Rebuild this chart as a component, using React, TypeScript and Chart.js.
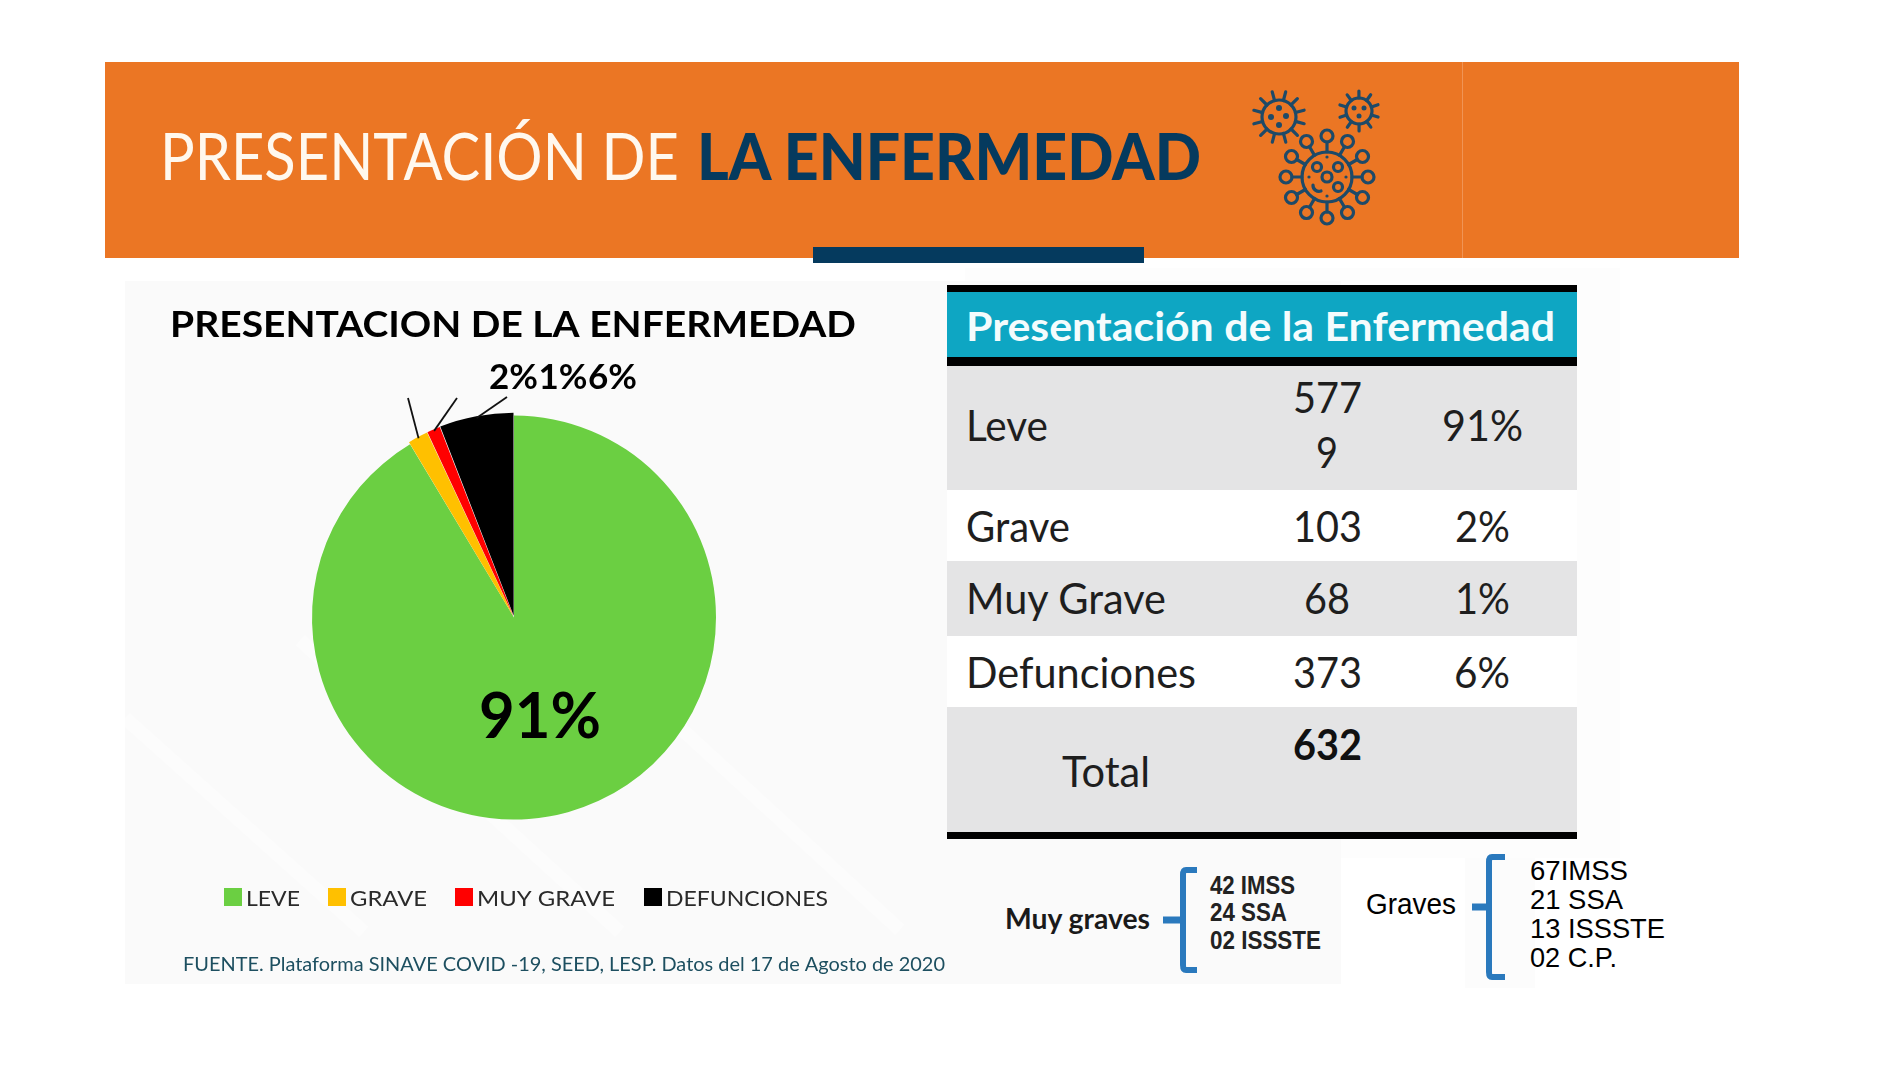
import React, { useEffect, useRef } from "react";
import { Chart, registerables } from "chart.js";

Chart.register(...registerables);

// ---- data ----
const categories = ["LEVE", "GRAVE", "MUY GRAVE", "DEFUNCIONES"];
const caseValues = [5779, 103, 68, 373];
const sliceColors = ["#6BCF42", "#FFC000", "#FF0000", "#000000"];
const tableRowNames = ["Leve", "Grave", "Muy Grave", "Defunciones"];
const tableCounts = ["5779", "103", "68", "373"];
const tablePercents = ["91%", "2%", "1%", "6%"];
const totalName = "Total";
const totalCount = "632";
const muyGravesLabel = "Muy graves";
const muyGravesItems = ["42 IMSS", "24 SSA", "02 ISSSTE"];
const gravesLabel = "Graves";
const gravesItems = ["67IMSS", "21 SSA", "13 ISSSTE", "02 C.P."];
const bannerLight = "PRESENTACIÓN DE";
const bannerBold = "LA ENFERMEDAD";
const chartTitle = "PRESENTACION DE LA ENFERMEDAD";
const tableTitle = "Presentación de la Enfermedad";
const sourceNote = "FUENTE. Plataforma SINAVE COVID -19, SEED, LESP. Datos del 17 de Agosto de 2020";

// ---- layout ----
const CANVAS = { left: 125, top: 281, width: 820, height: 703 };
const LEGEND = [
  { box: 224, x: 247, w: 53 },
  { box: 328, x: 351, w: 76 },
  { box: 455, x: 478, w: 137 },
  { box: 644, x: 667, w: 161 },
];
const NAVY = "#053A5E";
const ICON = "#1E4A68";
const BRACE = "#2A79BD";

function fit(ctx: CanvasRenderingContext2D, text: string, x: number, y: number, w: number) {
  const natural = ctx.measureText(text).width;
  ctx.save();
  ctx.translate(x, y);
  ctx.scale(w / natural, 1);
  ctx.textAlign = "left";
  ctx.textBaseline = "alphabetic";
  ctx.fillText(text, 0, 0);
  ctx.restore();
}

const overlay = {
  id: "overlay",
  afterDatasetsDraw(chart: any) {
    const ctx: CanvasRenderingContext2D = chart.ctx;
    const arcs = chart.getDatasetMeta(0).data;
    const total = caseValues.reduce((a, b) => a + b, 0);
    const pct = (v: number) => Math.round((v / total) * 100) + "%";
    const X = (px: number) => px - CANVAS.left;
    const Y = (py: number) => py - CANVAS.top;
    ctx.save();
    ctx.fillStyle = "#000";

    // main slice label, at the slice's own centre point
    const c = arcs[0].getCenterPoint();
    ctx.font = "700 64px Lato";
    const w91 = 122;
    fit(ctx, pct(caseValues[0]), c.x - w91 / 2 - 1, c.y + 23, w91);

    // leader lines and small labels
    const ends = [
      [408, 398],
      [457, 398],
      [507, 397],
    ];
    ctx.strokeStyle = "#111";
    ctx.lineWidth = 1.8;
    ctx.font = "700 35px Lato";
    [1, 2, 3].forEach((i, n) => {
      const a = arcs[i];
      const mid = (a.startAngle + a.endAngle) / 2;
      const r = a.outerRadius + 1;
      const ox = a.x + Math.cos(mid) * r;
      const oy = a.y + Math.sin(mid) * r;
      ctx.beginPath();
      ctx.moveTo(ox, oy);
      ctx.lineTo(X(ends[n][0]), Y(ends[n][1]));
      ctx.stroke();
      fit(ctx, pct(caseValues[i]), X(489 + n * 49.5), Y(389), 49);
    });

    // title
    ctx.font = "700 37px Lato";
    fit(ctx, chartTitle, X(170), Y(337), 686);

    // legend
    ctx.font = "400 21px Lato";
    categories.forEach((name, i) => {
      ctx.fillStyle = sliceColors[i];
      ctx.fillRect(X(LEGEND[i].box), Y(888), 18, 18);
      ctx.fillStyle = "#2A2A2A";
      fit(ctx, name, X(LEGEND[i].x - 1), Y(906), LEGEND[i].w + 1);
    });

    // source
    ctx.font = "400 20px Lato";
    ctx.fillStyle = "#1D4F60";
    fit(ctx, sourceNote, X(183), Y(971), 762);
    ctx.restore();
  },
};

function T({ x, y, w, size, weight = 400, fill = "#1E1E1E", family = "Lato", children }: any) {
  return (
    <text x={x} y={y} textLength={w} lengthAdjust="spacingAndGlyphs" fontSize={size} fontWeight={weight} fill={fill} fontFamily={family}>
      {children}
    </text>
  );
}

function Virus({ cx, cy, r, spike, n, knob = 0, rot = 0, inner }: any) {
  const parts = [];
  for (let i = 0; i < n; i++) {
    const a = rot + (i * Math.PI * 2) / n;
    const end = knob ? spike - knob : spike;
    parts.push(<line key={i} x1={cx + Math.cos(a) * r} y1={cy + Math.sin(a) * r} x2={cx + Math.cos(a) * end} y2={cy + Math.sin(a) * end} />);
    if (knob) parts.push(<circle key={"k" + i} cx={cx + Math.cos(a) * spike} cy={cy + Math.sin(a) * spike} r={knob} />);
  }
  return (
    <g stroke={ICON} strokeWidth={3.2} fill="none" strokeLinecap="round">
      <circle cx={cx} cy={cy} r={r} />
      {parts}
      {inner}
    </g>
  );
}

function Brace({ x, top, bottom, tip, nubFrom, nubY }: any) {
  return (
    <g stroke={BRACE} strokeWidth={6} fill="none" strokeLinejoin="round">
      <path d={`M${tip} ${top + 2} H${x + 3} Q${x} ${top + 2} ${x} ${top + 7} V${bottom - 7} Q${x} ${bottom - 2} ${x + 3} ${bottom - 2} H${tip}`} />
      <path d={`M${nubFrom} ${nubY} H${x}`} strokeWidth={7} />
    </g>
  );
}

export default function App() {
  const ref = useRef<HTMLCanvasElement>(null);
  useEffect(() => {
    const chart = new Chart(ref.current as HTMLCanvasElement, {
      type: "pie",
      data: {
        labels: categories,
        datasets: [
          {
            data: caseValues,
            backgroundColor: sliceColors,
            borderWidth: 0,
            offset: [0, 5, 5, 7],
          },
        ],
      },
      options: {
        animation: false,
        responsive: false,
        radius: 202,
        layout: { padding: { left: 0, top: 0, right: 42, bottom: 30 } },
        plugins: { legend: { display: false }, title: { display: false }, tooltip: { enabled: false } },
      } as any,
      plugins: [overlay],
    });
    return () => chart.destroy();
  }, []);

  const rows = [
    { base: 441, name: 82, cx: 1328, cw: 68, px: 1442, pw: 81 },
    { base: 541.5, name: 104, cx: 1293, cw: 69, px: 1455, pw: 55 },
    { base: 613.5, name: 200, cx: 1304, cw: 46, px: 1455, pw: 55 },
    { base: 688, name: 230, cx: 1293, cw: 69, px: 1454, pw: 56 },
  ];

  return (
    <div style={{ position: "absolute", left: 0, top: 0, width: 1900, height: 1068, background: "#fff", overflow: "hidden", filter: "blur(0.4px)" }}>
      <svg width={1900} height={1068} style={{ position: "absolute", left: 0, top: 0 }}>
        {/* panels */}
        <rect x={965} y={268} width={655} height={590} fill="#FDFDFD" />
        <rect x={125} y={281} width={1216} height={703} fill="#FAFAFA" />
        <rect x={1465} y={858} width={70} height={130} fill="#FCFCFC" />
        <g stroke="#FFFFFF" strokeOpacity={0.35} strokeWidth={14}>
          <line x1={125} y1={718} x2={364} y2={932} />
          <line x1={300} y1={640} x2={620} y2={932} />
          <line x1={650} y1={700} x2={900} y2={930} />
        </g>
        {/* banner */}
        <rect x={105} y={62} width={1634} height={196} fill="#EB7624" />
        <rect x={1462} y={62} width={1} height={196} fill="#F09455" />
        <rect x={813} y={247} width={331} height={16} fill={NAVY} />
        <T x={160} y={179.5} w={519} size={65} weight={400} fill="#FFF8EE">{bannerLight}</T>
        <T x={697} y={179.5} w={504} size={65} weight={900} fill={NAVY}>{bannerBold}</T>
        {/* icons */}
        <Virus cx={1279} cy={117} r={17} spike={26} n={12} rot={0.26}
          inner={<g fill={ICON} stroke="none"><circle cx={1279} cy={108} r={3} /><circle cx={1271} cy={117} r={3} /><circle cx={1286} cy={116} r={3} /><circle cx={1279} cy={125} r={3} /></g>} />
        <Virus cx={1359} cy={111} r={13} spike={20} n={10} rot={0.31}
          inner={<g fill={ICON} stroke="none"><circle cx={1354} cy={108} r={2.5} /><circle cx={1364} cy={108} r={2.5} /><circle cx={1359} cy={116} r={2.5} /></g>} />
        <Virus cx={1327} cy={177} r={25} spike={41} n={12} knob={6} rot={-Math.PI / 2}
          inner={<g><circle cx={1327} cy={177} r={5} /><circle cx={1317} cy={167} r={4.5} /><circle cx={1338} cy={167} r={4.5} /><circle cx={1338} cy={187} r={4.5} /><path d="M1313 185 a6 6 0 0 0 8 6" /><g fill={ICON} stroke="none"><circle cx={1327} cy={157} r={1.6} /><circle cx={1309} cy={177} r={1.6} /><circle cx={1346} cy={177} r={1.6} /><circle cx={1327} cy={196} r={1.6} /></g></g>} />
        {/* table */}
        <rect x={947} y={285} width={630} height={7} fill="#000" />
        <rect x={947} y={292} width={630} height={65} fill="#0EA6C3" />
        <rect x={947} y={357} width={630} height={9} fill="#000" />
        <rect x={947} y={366} width={630} height={124} fill="#E4E4E5" />
        <rect x={947} y={490} width={630} height={71} fill="#FFFFFF" />
        <rect x={947} y={561} width={630} height={75} fill="#E4E4E5" />
        <rect x={947} y={636} width={630} height={71} fill="#FFFFFF" />
        <rect x={947} y={707} width={630} height={125} fill="#E4E4E5" />
        <rect x={947} y={832} width={630} height={7} fill="#000" />
        <T x={966} y={341} w={589} size={40} weight={700} fill="#F4FCFD">{tableTitle}</T>
        {rows.map((r, i) => (
          <g key={i}>
            <T x={966} y={r.base} w={r.name} size={42}>{tableRowNames[i]}</T>
            {i === 0 ? (
              <>
                <T x={1293} y={413} w={69} size={42}>{tableCounts[0].slice(0, 3)}</T>
                <T x={1316} y={467.5} w={22} size={42}>{tableCounts[0].slice(3)}</T>
              </>
            ) : (
              <T x={r.cx} y={r.base} w={r.cw} size={42}>{tableCounts[i]}</T>
            )}
            <T x={r.px} y={r.base} w={r.pw} size={42}>{tablePercents[i]}</T>
          </g>
        ))}
        <T x={1062} y={787} w={88} size={42}>{totalName}</T>
        <T x={1293} y={760} w={69} size={42} weight={700} fill="#111">{totalCount}</T>
        {/* breakdowns */}
        <T x={1005} y={929} w={145} size={29} weight={700} fill="#1A1A1A">{muyGravesLabel}</T>
        <Brace x={1183} top={868} bottom={972} tip={1197} nubFrom={1163} nubY={920} />
        {muyGravesItems.map((s, i) => (
          <T key={s} x={1210} y={[894, 921, 948.5][i]} w={[85, 77, 111][i]} size={25} weight={700} family="Liberation Sans" fill="#222">{s}</T>
        ))}
        <T x={1366} y={914} w={90} size={29} weight={400} family="Liberation Sans" fill="#000">{gravesLabel}</T>
        <Brace x={1489} top={855} bottom={979} tip={1505} nubFrom={1472} nubY={907} />
        {gravesItems.map((s, i) => (
          <T key={s} x={1530} y={[880, 908.5, 938, 967][i]} w={[98, 93, 135, 87][i]} size={28} family="Liberation Sans" fill="#000">{s}</T>
        ))}
      </svg>
      <canvas ref={ref} width={CANVAS.width} height={CANVAS.height}
        style={{ position: "absolute", left: CANVAS.left, top: CANVAS.top, width: CANVAS.width, height: CANVAS.height }} />
    </div>
  );
}
